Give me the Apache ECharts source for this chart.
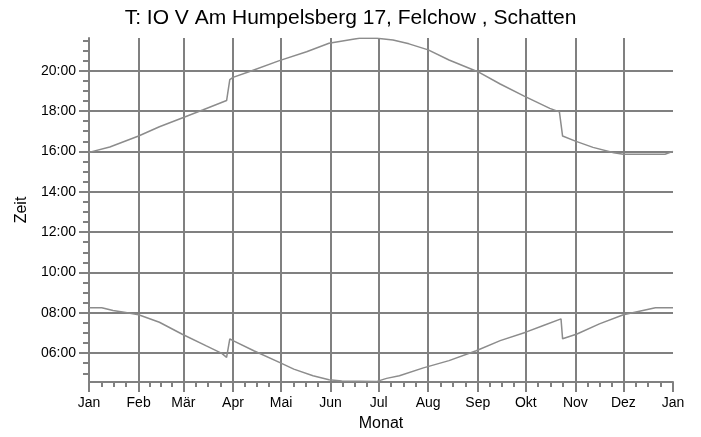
<!DOCTYPE html>
<html>
<head>
<meta charset="utf-8">
<title>Schatten</title>
<script src="https://cdn.jsdelivr.net/npm/echarts@6/dist/echarts.min.js"></script>
<style>
  html, body { margin: 0; padding: 0; background: #fff; }
  #chart { width: 701px; height: 437px; }
</style>
</head>
<body>
<div id="chart"></div>
<script>
// Monate (Tag im Jahr, an dem der Monat beginnt)
const monthStarts = [0, 31, 59, 90, 120, 151, 181, 212, 243, 273, 304, 334, 365];
const monthNames = ['Jan', 'Feb', 'Mär', 'Apr', 'Mai', 'Jun', 'Jul', 'Aug', 'Sep', 'Okt', 'Nov', 'Dez', 'Jan'];

// Zeit-Achse in Stunden
const hourTicks = [6, 8, 10, 12, 14, 16, 18, 20];
const yMin = 4.57;
const yMax = 21.62;

// Schattenende (obere Kurve): Tag im Jahr / Uhrzeit in Stunden
const eveningDays = [0, 13, 31, 44, 59, 71, 86, 88, 90, 100, 119, 136, 150, 165, 169, 180, 190, 200, 212, 225, 243, 257, 272, 288, 294, 296, 304, 315, 328, 334, 350, 360, 365];
const eveningHours = [15.95, 16.22, 16.76, 17.22, 17.68, 18.05, 18.52, 19.56, 19.67, 19.95, 20.5, 20.94, 21.36, 21.56, 21.61, 21.61, 21.52, 21.33, 21.03, 20.53, 19.95, 19.34, 18.74, 18.13, 17.96, 16.76, 16.51, 16.2, 15.93, 15.86, 15.86, 15.86, 16.0];

// Schattenbeginn (untere Kurve)
const morningDays = [0, 8, 15, 22, 31, 44, 58, 73, 83, 86, 88, 90, 103, 119, 128, 140, 150, 158, 180, 186, 194, 209, 225, 242, 257, 273, 284, 295, 296, 305, 319, 334, 344, 354, 365];
const morningHours = [8.25, 8.25, 8.11, 8.03, 7.9, 7.53, 6.95, 6.37, 5.99, 5.79, 6.71, 6.62, 6.12, 5.54, 5.21, 4.88, 4.68, 4.62, 4.6, 4.75, 4.88, 5.27, 5.63, 6.12, 6.62, 7.04, 7.37, 7.7, 6.71, 6.95, 7.45, 7.9, 8.08, 8.25, 8.25];

const gridColor = '#808080';
const lineColor = '#8c8c8c';
const font = 'Liberation Sans, Arial, sans-serif';

// kleine Striche: Monat in Viertel, Stunden in halbe
const quarterTicks = [];
for (let i = 0; i < monthStarts.length - 1; i++) {
  const len = monthStarts[i + 1] - monthStarts[i];
  for (let k = 1; k < 4; k++) quarterTicks.push(monthStarts[i] + k * len / 4);
}
const halfHours = [];
for (let h = 5; h <= 21.5; h += 0.5) halfHours.push(h);
const innerMonths = monthStarts.slice(1, -1);

function pad(n) {
  return (n < 10 ? '0' : '') + n;
}
function toClock(v) {
  const h = Math.floor(v);
  const m = Math.round((v - h) * 60);
  return pad(h) + ':' + pad(m);
}

const chart = echarts.init(document.getElementById('chart'), null, { renderer: 'canvas' });

chart.setOption({
  animation: false,
  backgroundColor: '#fff',
  title: {
    text: 'T: IO V Am Humpelsberg 17, Felchow , Schatten',
    left: 'center',
    top: 3,
    textStyle: { fontFamily: font, fontSize: 21, fontWeight: 'normal', color: '#000' }
  },
  grid: { left: 89, right: 28, top: 38, bottom: 55 },
  xAxis: [
    {
      type: 'value', min: 0, max: 365, position: 'bottom',
      name: 'Monat', nameLocation: 'middle', nameGap: 34,
      nameTextStyle: { fontFamily: font, fontSize: 16, color: '#000' },
      axisLine: { show: true, lineStyle: { color: gridColor, width: 2 } },
      axisTick: { show: true, length: 10, customValues: monthStarts, lineStyle: { color: gridColor, width: 2 } },
      axisLabel: {
        customValues: monthStarts, margin: 14,
        fontFamily: font, fontSize: 14, color: '#000',
        formatter: v => monthNames[monthStarts.indexOf(v)]
      },
      splitLine: { show: false }
    },
    {
      type: 'value', min: 0, max: 365, position: 'bottom',
      axisLine: { show: false },
      axisTick: { show: true, length: 5, customValues: quarterTicks, lineStyle: { color: gridColor, width: 2 } },
      axisLabel: { show: false },
      splitLine: { show: false }
    },
    {
      type: 'value', min: 0, max: 365, position: 'bottom',
      axisLine: { show: false },
      axisTick: { show: false, customValues: innerMonths },
      axisLabel: { show: false },
      splitLine: { show: true, lineStyle: { color: gridColor, width: 2 } }
    }
  ],
  yAxis: [
    {
      type: 'value', min: yMin, max: yMax, position: 'left',
      name: 'Zeit', nameLocation: 'middle', nameGap: 56, nameRotate: 90,
      nameTextStyle: { fontFamily: font, fontSize: 16, color: '#000' },
      axisLine: { show: true, lineStyle: { color: gridColor, width: 2 } },
      axisTick: { show: true, length: 10, customValues: hourTicks, lineStyle: { color: gridColor, width: 2 } },
      axisLabel: {
        customValues: hourTicks, margin: 13,
        fontFamily: font, fontSize: 14, color: '#000',
        formatter: v => toClock(v)
      },
      splitLine: { show: true, lineStyle: { color: gridColor, width: 2 } }
    },
    {
      type: 'value', min: yMin, max: yMax, position: 'left',
      axisLine: { show: false },
      axisTick: { show: true, length: 6, customValues: halfHours, lineStyle: { color: gridColor, width: 2 } },
      axisLabel: { show: false },
      splitLine: { show: false }
    }
  ],
  series: [
    {
      name: 'Ende',
      type: 'line',
      xAxisIndex: 0, yAxisIndex: 0,
      showSymbol: false,
      lineStyle: { color: lineColor, width: 1.5 },
      data: eveningDays.map((d, i) => [d, eveningHours[i]])
    },
    {
      name: 'Beginn',
      type: 'line',
      xAxisIndex: 0, yAxisIndex: 0,
      showSymbol: false,
      lineStyle: { color: lineColor, width: 1.5 },
      data: morningDays.map((d, i) => [d, morningHours[i]])
    }
  ]
});
</script>
</body>
</html>
